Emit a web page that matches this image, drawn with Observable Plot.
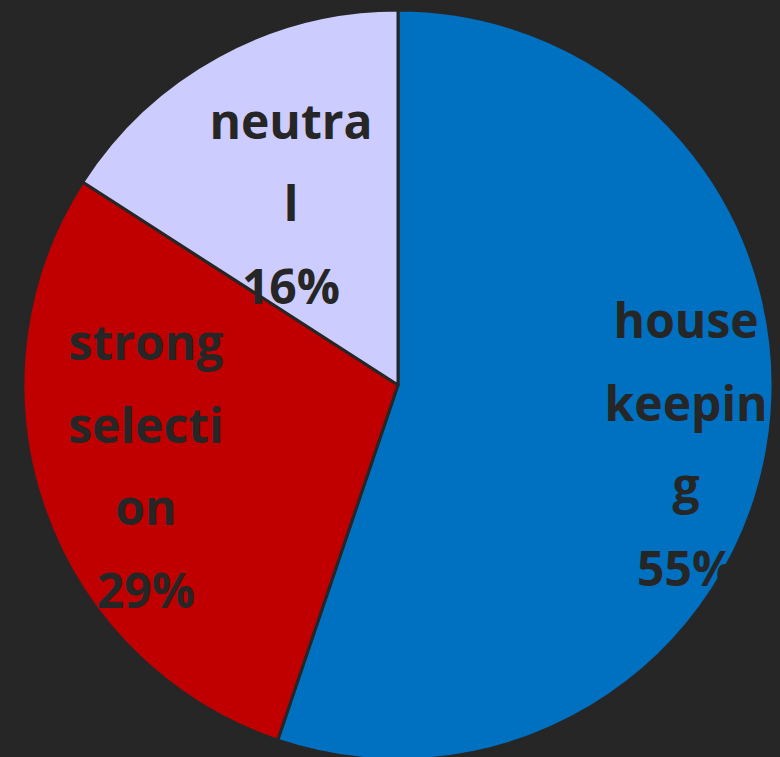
<!DOCTYPE html>
<html>
<head>
<meta charset="utf-8">
<script src="https://cdn.jsdelivr.net/npm/d3@7"></script>
<script src="https://cdn.jsdelivr.net/npm/@observablehq/plot@0.6"></script>
<style>
  html, body { margin: 0; padding: 0; background: #262626; }
  #chart svg { display: block; }
</style>
</head>
<body>
<div id="chart"></div>
<script>
// ---- data ----
const categories = ["housekeeping", "strong selection", "neutral"];
const shares = [55.2, 28.9, 15.9];
const labelTexts = ["house\nkeepin\ng\n55%", "strong\nselecti\non\n29%", "neutra\nl\n16%"];
const sliceColors = ["#0070C0", "#C00000", "#CCCCFF"];

// ---- layout (label placement: radius fraction, angle nudge in degrees) ----
const labelRadius = [0.784, 0.709, 0.558];
const labelNudge = [2.6, 1.1, -2.3];

const rows = categories.map((c, i) => ({category: c, share: shares[i], label: labelTexts[i], i}));
const arcs = d3.pie().sort(null).value(d => d.share)(rows);
arcs.forEach((a, i) => {
  const mid = (a.startAngle + a.endAngle) / 2 + labelNudge[i] * Math.PI / 180;
  a.data.lx = labelRadius[i] * Math.sin(mid);
  a.data.ly = labelRadius[i] * Math.cos(mid);
});

function pieMark(index, scales, values, dimensions, context) {
  const g = d3.create("svg:g");
  const cx = scales.x(0), cy = scales.y(0);
  const r = scales.x(1) - scales.x(0);
  const color = scales.color || d3.scaleOrdinal(categories, sliceColors);
  g.selectAll("path")
    .data(arcs)
    .join("path")
    .attr("transform", `translate(${cx},${cy})`)
    .attr("d", d3.arc().innerRadius(0).outerRadius(r))
    .attr("fill", d => color(d.data.category))
    .attr("stroke", "#262626")
    .attr("stroke-width", 3)
    .attr("stroke-linejoin", "round");
  return g.node();
}

const chart = Plot.plot({
  width: 780,
  height: 757,
  margin: 0,
  style: {background: "#262626"},
  x: {domain: [-1, 1], range: [23, 773], axis: null},
  y: {domain: [-1, 1], range: [760, 10], axis: null},
  color: {domain: categories, range: sliceColors},
  marks: [
    Plot.dot(rows, {x: 0, y: 0, r: 0, fill: "category"}),
    pieMark,
    Plot.text(rows, {
      x: "lx",
      y: "ly",
      dy: -11,
      text: "label",
      fontSize: 48,
      fontWeight: "bold",
      fontFamily: "'Open Sans', 'Noto Sans', sans-serif",
      fill: "#262626",
      lineHeight: 1.72,
      textAnchor: "middle"
    })
  ]
});
document.getElementById("chart").appendChild(chart);
</script>
</body>
</html>
